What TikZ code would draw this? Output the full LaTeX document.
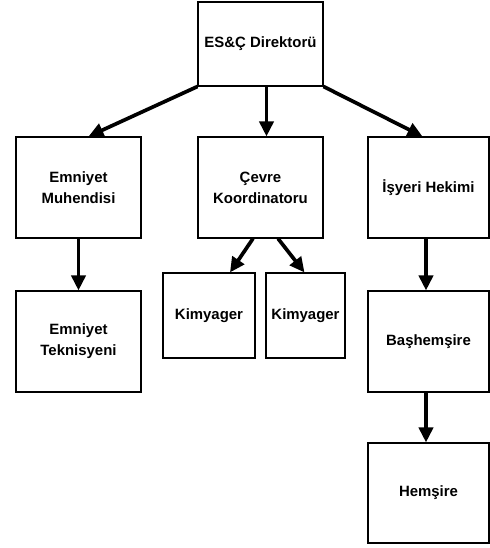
\documentclass[tikz,border=0pt]{standalone}
\usepackage{fontspec}
\setmainfont{Liberation Sans}
\usetikzlibrary{arrows.meta}
\begin{document}
\begin{tikzpicture}[x=0.02cm,y=-0.02cm,
    unit/.style={draw, line width=0.6pt, align=center, inner sep=2pt,
      font=\fontsize{8.5}{12}\selectfont\bfseries},
    link/.style={line width=2.1pt, -{Triangle[length=0.3cm,width=0.28cm]}}]
  \useasboundingbox (0,0) rectangle (490,548);
  % top of the chart
  \node[unit, minimum width=125*0.02cm, minimum height=84*0.02cm] (dir) at (260.5,44) {ES\&Ç Direktorü};
  % second row
  \node[unit, minimum width=125*0.02cm, minimum height=101*0.02cm] (muh) at (78.5,187.5) {Emniyet\\Muhendisi};
  \node[unit, minimum width=125*0.02cm, minimum height=101*0.02cm] (cevre) at (260.5,187.5) {Çevre\\Koordinatoru};
  \node[unit, minimum width=121*0.02cm, minimum height=101*0.02cm] (hekim) at (428.5,187.5) {İşyeri Hekimi};
  % below each unit
  \node[unit, minimum width=92*0.02cm, minimum height=85*0.02cm] (kim1) at (209,315.5) {Kimyager};
  \node[unit, minimum width=79*0.02cm, minimum height=85*0.02cm] (kim2) at (305.5,315.5) {Kimyager};
  \node[unit, minimum width=125*0.02cm, minimum height=101*0.02cm] (tek) at (78.5,341.5) {Emniyet\\Teknisyeni};
  \node[unit, minimum width=121*0.02cm, minimum height=101*0.02cm] (bas) at (428.5,341.5) {Başhemşire};
  \node[unit, minimum width=121*0.02cm, minimum height=100*0.02cm] (hem) at (428.5,493) {Hemşire};
  % connectors
  \draw[link] (dir.south west) -- ([xshift=0.2cm]muh.north);
  \draw[link] ([xshift=0.12cm]dir.south) -- ([xshift=0.12cm]cevre.north);
  \draw[link] (dir.south east) -- ([xshift=-0.12cm]hekim.north);
  \draw[link] ([xshift=-0.15cm]cevre.south) -- ([xshift=0.42cm]kim1.north);
  \draw[link] ([xshift=0.35cm]cevre.south) -- ([xshift=-0.02cm]kim2.north);
  \draw[link] (muh) -- (tek);
  \draw[link] ([xshift=-0.05cm]hekim.south) -- ([xshift=-0.05cm]bas.north);
  \draw[link] ([xshift=-0.05cm]bas.south) -- ([xshift=-0.05cm]hem.north);
\end{tikzpicture}
\end{document}
